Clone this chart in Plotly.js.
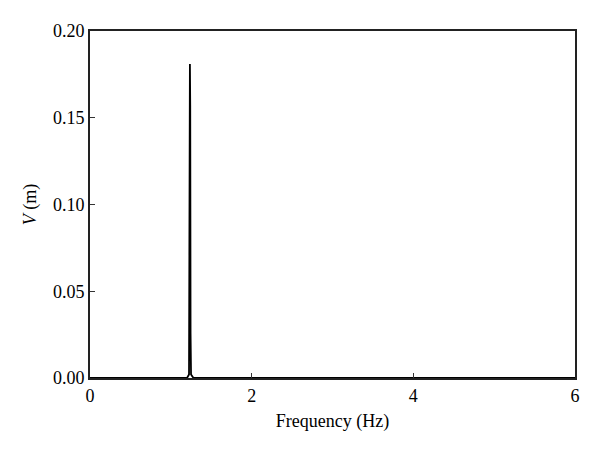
<!DOCTYPE html>
<html>
<head>
<meta charset="utf-8">
<script src="https://cdn.plot.ly/plotly-3.0.1.min.js"></script>
<style>html,body{margin:0;padding:0;background:#fff;}#chart{width:600px;height:457px;}</style>
</head>
<body>
<div id="chart"></div>
<script>
var frequency = [0, 0.5, 1.0, 1.20, 1.225, 1.232, 1.236, 1.240, 1.244, 1.250, 1.28, 1.5, 2.0, 3.0, 4.0, 5.0, 6.0];
var amplitude = [0, 0, 0, 0, 0.002, 0.117, 0.181, 0.157, 0.026, 0.002, 0, 0, 0, 0, 0, 0, 0];
var xTicks = [0, 2, 4, 6];
var yTicks = [0, 0.05, 0.10, 0.15, 0.20];

var font = {family: "Liberation Serif, Times New Roman, serif", size: 18, color: "#000"};

Plotly.newPlot("chart", [{
  x: frequency,
  y: amplitude,
  type: "scatter",
  mode: "lines",
  line: {color: "#000", width: 1.8},
  hoverinfo: "none",
  showlegend: false
}], {
  width: 600,
  height: 457,
  margin: {l: 90, r: 25, t: 31, b: 79},
  paper_bgcolor: "#fff",
  plot_bgcolor: "#fff",
  font: font,
  xaxis: {
    range: [0, 6],
    tickvals: xTicks,
    ticktext: xTicks.map(String),
    ticks: "inside",
    ticklen: 5,
    tickwidth: 1.2,
    tickcolor: "#333",
    showline: true,
    linecolor: "#222",
    linewidth: 2,
    mirror: true,
    showgrid: false,
    zeroline: false,
    tickfont: font,
    title: {text: "Frequency (Hz)", font: font, standoff: 10}
  },
  yaxis: {
    range: [0, 0.2],
    tickvals: yTicks,
    ticktext: yTicks.map(function(v){return v.toFixed(2);}),
    ticks: "inside",
    ticklen: 5,
    tickwidth: 1.2,
    tickcolor: "#333",
    showline: true,
    linecolor: "#222",
    linewidth: 2,
    mirror: true,
    showgrid: false,
    zeroline: false,
    tickfont: font,
    title: {text: "<i>V</i> (m)", font: font, standoff: 12}
  }
}, {displayModeBar: false, staticPlot: true});
</script>
</body>
</html>
